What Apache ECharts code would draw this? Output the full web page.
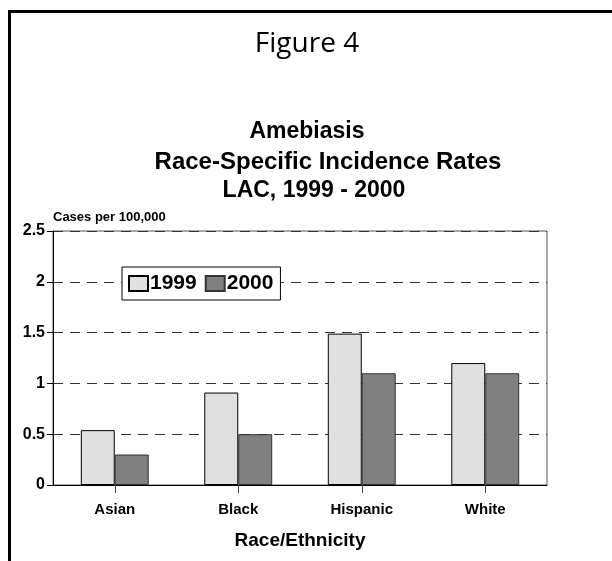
<!DOCTYPE html>
<html>
<head>
<meta charset="utf-8">
<script src="https://cdn.jsdelivr.net/npm/echarts@6/dist/echarts.min.js"></script>
<style>
  html, body { margin: 0; padding: 0; background: #fff; }
  #chart { width: 612px; height: 561px; }
</style>
</head>
<body>
<div id="chart"></div>
<script>
// Amebiasis incidence by race/ethnicity, LAC 1999-2000
const categories = ['Asian', 'Black', 'Hispanic', 'White'];
const years = ['1999', '2000'];
const rates1999 = [0.54, 0.91, 1.49, 1.2];
const rates2000 = [0.3, 0.5, 1.1, 1.1];
const yTicks = [0, 0.5, 1, 1.5, 2, 2.5];

const font = 'Liberation Sans, Arial, Helvetica, sans-serif';
const chart = echarts.init(document.getElementById('chart'), null, { renderer: 'canvas' });

chart.setOption({
  animation: false,
  backgroundColor: '#fff',
  graphic: [
    // page frame: top and left rules
    { type: 'line', shape: { x1: 9.5, y1: 11.5, x2: 612, y2: 11.5 }, style: { stroke: '#000', lineWidth: 3 } },
    { type: 'line', shape: { x1: 9.5, y1: 10, x2: 9.5, y2: 561 }, style: { stroke: '#000', lineWidth: 3 } },
    { type: 'text', x: 307, y: 44, style: { text: 'Figure 4', font: 'normal 28px "Open Sans", ' + font, fill: '#000', textAlign: 'center', textVerticalAlign: 'middle' } },
    { type: 'text', x: 307, y: 132, style: { text: 'Amebiasis', font: 'bold 23px ' + font, fill: '#000', textAlign: 'center', textVerticalAlign: 'middle' } },
    { type: 'text', x: 328, y: 162, style: { text: 'Race-Specific Incidence Rates', font: 'bold 24px ' + font, fill: '#000', textAlign: 'center', textVerticalAlign: 'middle' } },
    { type: 'text', x: 314, y: 191, style: { text: 'LAC, 1999 - 2000', font: 'bold 23px ' + font, fill: '#000', textAlign: 'center', textVerticalAlign: 'middle' } }
  ],
  legend: {
    data: years.map(function (y) { return { name: y, icon: 'rect' }; }),
    left: 122,
    top: 267,
    orient: 'horizontal',
    backgroundColor: '#fff',
    borderColor: '#000',
    borderWidth: 1,
    padding: [6, 7, 6, 6],
    itemGap: 8,
    itemWidth: 19,
    itemHeight: 15,
    textStyle: { fontFamily: font, fontWeight: 'bold', fontSize: 21, color: '#000', padding: [0, 0, 0, -3] }
  },
  grid: {
    left: 53, top: 231, right: 65, bottom: 76,
    show: true, borderColor: '#555', borderWidth: 1, backgroundColor: 'transparent'
  },
  xAxis: {
    type: 'category',
    data: categories,
    name: 'Race/Ethnicity',
    nameLocation: 'middle',
    nameGap: 46,
    nameTextStyle: { fontFamily: font, fontWeight: 'bold', fontSize: 19, color: '#000' },
    axisLine: { lineStyle: { color: '#000', width: 1 } },
    axisTick: { show: true, alignWithLabel: true, length: 8, lineStyle: { color: '#444', width: 1 } },
    axisLabel: { margin: 17, fontFamily: font, fontWeight: 'bold', fontSize: 15, color: '#000' }
  },
  yAxis: {
    type: 'value',
    min: yTicks[0],
    max: yTicks[yTicks.length - 1],
    interval: 0.5,
    name: 'Cases per 100,000',
    nameLocation: 'end',
    nameGap: 7,
    nameTextStyle: { fontFamily: font, fontWeight: 'bold', fontSize: 13, color: '#000', align: 'left' },
    axisLine: { show: true, lineStyle: { color: '#000', width: 1 } },
    axisTick: { show: true, length: 6, lineStyle: { color: '#000' } },
    axisLabel: { margin: 8, fontFamily: font, fontWeight: 'bold', fontSize: 16, color: '#000' },
    splitLine: { show: true, lineStyle: { color: '#333', type: [10, 7], width: 1 } }
  },
  series: [
    {
      name: years[0], type: 'bar', data: rates1999,
      barGap: '0%', barCategoryGap: '45%',
      itemStyle: { color: '#e0e0e0', borderColor: '#000', borderWidth: 1 }
    },
    {
      name: years[1], type: 'bar', data: rates2000,
      itemStyle: { color: '#808080', borderColor: '#333', borderWidth: 1 }
    }
  ]
});
</script>
</body>
</html>
